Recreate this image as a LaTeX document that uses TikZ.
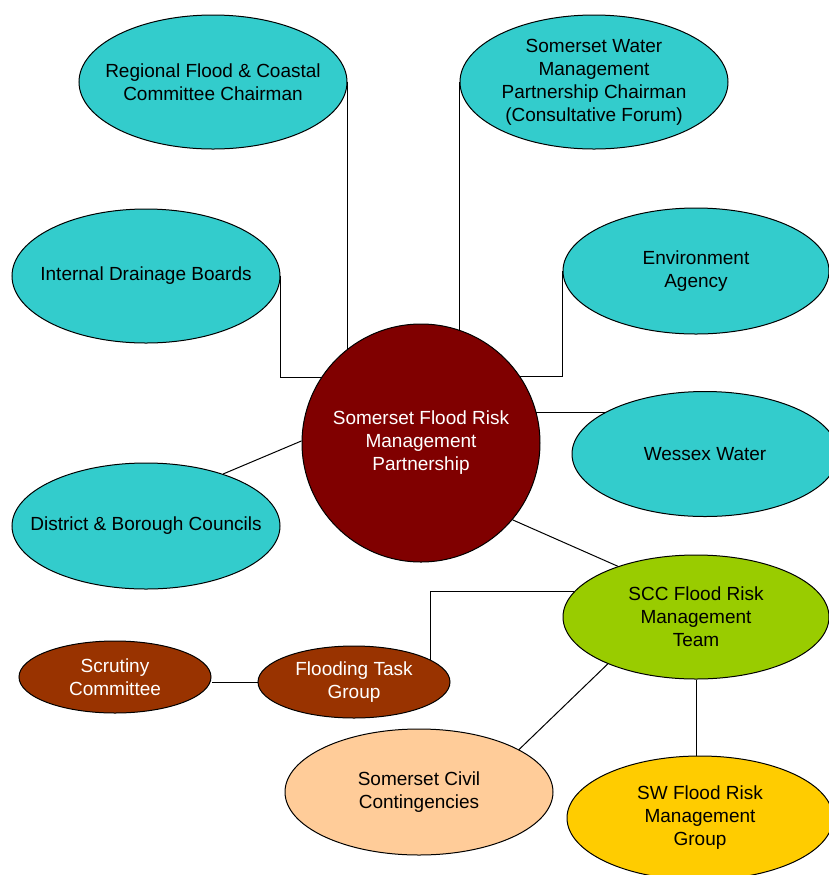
\documentclass[tikz,border=0pt]{standalone}
\usepackage{fontspec}
\setmainfont{Liberation Sans}
\usetikzlibrary{shapes.geometric}
\usetikzlibrary{positioning}

\definecolor{teal}{HTML}{33CCCC}
\definecolor{maroon}{HTML}{800000}
\definecolor{lime}{HTML}{99CC00}
\definecolor{rust}{HTML}{993300}
\definecolor{peach}{HTML}{FFCC99}
\definecolor{gold}{HTML}{FFCC00}

\tikzset{
    body/.style={ellipse, draw, line width=0.5pt, align=center,
        inner xsep=-25pt, inner ysep=-10pt,
        font=\fontsize{9.5}{11.5}\selectfont},
    partner/.style={body, fill=teal, minimum width=134pt, minimum height=65pt},
    team/.style={body, fill=lime, minimum width=133pt, minimum height=62pt},
    council/.style={body, fill=rust, text=white, minimum width=96pt, minimum height=36pt},
    link/.style={line width=0.5pt}
}

\begin{document}
\begin{tikzpicture}[x=0.5pt, y=-0.5pt]
    \useasboundingbox (0,0) rectangle (829,875);

    \node[partner, minimum height=67pt] (rfcc) at (213,82) {Regional Flood \& Coastal\\Committee Chairman};
    \node[partner, minimum height=67pt] (swmp) at (594,82) {Somerset Water\\Management\\Partnership Chairman\\(Consultative Forum)};
    \node[partner, minimum height=67pt] (idb) at (146,276) {Internal Drainage Boards};
    \node[partner, minimum width=133pt, minimum height=63pt] (ea) at (696,271) {Environment\\Agency};
    \node[circle, draw, line width=0.5pt, fill=maroon, text=white, align=center, inner sep=0pt,
        minimum size=119pt, font=\fontsize{9.5}{11.5}\selectfont] (sfrmp) at (421,443)
        {Somerset Flood Risk\\Management\\Partnership};
    \node[partner, minimum width=133pt, minimum height=62.5pt] (ww) at (705,454) {Wessex Water};
    \node[partner, minimum height=63pt] (dbc) at (146,526) {District \& Borough Councils};
    \node[team] (scc) at (696,617) {SCC Flood Risk\\Management\\Team};
    \node[council] (sc) at (115,677) {Scrutiny\\Committee};
    \node[council] (ftg) at (354,682) {Flooding Task\\Group};
    \node[body, fill=peach, minimum width=134pt, minimum height=63pt] (csc) at (419,792) {Somerset Civil\\Contingencies};
    \node[team, fill=gold] (swfrmg) at (700,818) {SW Flood Risk\\Management\\Group};

    \draw[link] (rfcc.east) -- (rfcc.east |- sfrmp.128.5);
    \draw[link] (swmp.west) -- (swmp.west |- sfrmp.71);
    \draw[link] (idb.east) |- (sfrmp.147);
    \draw[link] (ea.west) |- (sfrmp.34);
    \draw[link] (sfrmp.15) -- (sfrmp.15 -| ww.157);
    \draw[link] (dbc.34) -- (sfrmp.179);
    \draw[link] (sfrmp.320) -- (scc.147);
    \draw[link] (scc.168) -| (ftg.16);
    \draw[link] (ftg.west) -- (ftg.west -| sc.east);
    \draw[link] (scc.208) -- (csc.23);
    \draw[link] (scc.south) -- (scc.south |- swfrmg.north);
\end{tikzpicture}
\end{document}
